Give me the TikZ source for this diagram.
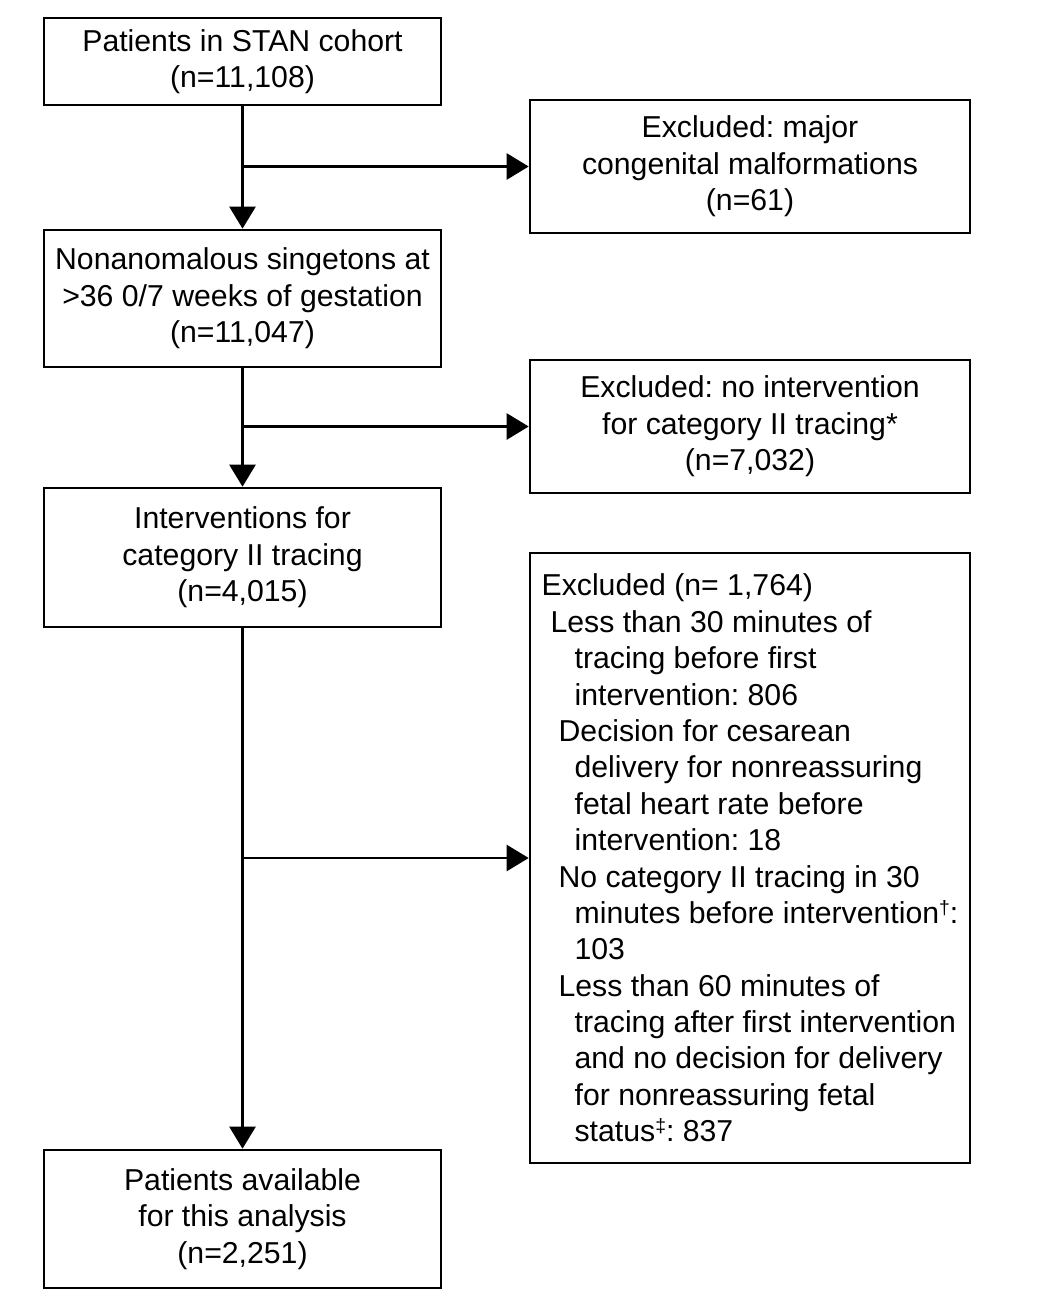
\documentclass[tikz,border=0pt]{standalone}
\usepackage{fontspec}
\setmainfont{Liberation Sans}
\usepackage{tikz}
\usetikzlibrary{arrows.meta}
\usetikzlibrary{positioning}
\frenchspacing
\newcommand{\indA}{\hspace*{0.18cm}}
\newcommand{\indB}{\hspace*{0.34cm}}
\newcommand{\indC}{\hspace*{0.66cm}}
\newcommand{\fnmark}[1]{\raisebox{0.55ex}{\fontsize{11}{11}\selectfont #1}}

\begin{document}
\begin{tikzpicture}[
		flowbox/.style={rectangle, draw, line width=1.5pt, inner sep=0pt, align=center, minimum width=7.94cm, font=\fontsize{17.2}{20.7}\selectfont},
		exbox/.style={flowbox, minimum width=8.8cm, minimum height=2.66cm},
		flowarrow/.style={line width=1.5pt, -{Triangle[width=0.52cm, length=0.44cm]}}]
		\useasboundingbox (0,0) rectangle (21,-26.12);

		% Main column
		\node[flowbox, minimum height=1.74cm] (cohort) at (4.85,-1.23) {Patients in STAN cohort\\(n=11,108)};
		\node[flowbox, minimum height=2.74cm] (singletons) at (4.85,-5.97) {Nonanomalous singetons at\\>36 0/7 weeks of gestation\\(n=11,047)};
		\node[flowbox, minimum height=2.78cm] (interv) at (4.85,-11.15) {Interventions for\\category II tracing\\(n=4,015)};
		\node[flowbox, minimum height=2.76cm] (analysis) at (4.85,-24.38) {Patients available\\for this analysis\\(n=2,251)};

		% Exclusions
		\node[exbox] (exMalf) at (15.0,-3.33) {Excluded: major\\congenital malformations\\(n=61)};
		\node[exbox] (exNoInt) at (15.0,-8.53) {Excluded: no intervention\\for category II tracing*\\(n=7,032)};
		\node[exbox, minimum height=12.2cm, align=left] (exOther) at (15.0,-17.16) {Excluded (n= 1,764)\\
			\indA Less than 30 minutes of\\
			\indC tracing before first\\
			\indC intervention: 806\\
			\indB Decision for cesarean\\
			\indC delivery for nonreassuring\\
			\indC fetal heart rate before\\
			\indC intervention: 18\\
			\indB No category II tracing in 30\\
			\indC minutes before intervention\fnmark{†}:\\
			\indC 103\\
			\indB Less than 60 minutes of\\
			\indC tracing after first intervention\\
			\indC and no decision for delivery\\
			\indC for nonreassuring fetal\\
			\indC status\fnmark{‡}: 837};

		% Branch points on the main line
		\coordinate (brMalf) at (cohort.south |- exMalf.west);
		\coordinate (brNoInt) at (singletons.south |- exNoInt.west);
		\coordinate (brOther) at (interv.south |- exOther.west);

		\draw[flowarrow] (cohort) -- (singletons);
		\draw[flowarrow] (singletons) -- (interv);
		\draw[flowarrow] (interv) -- (analysis);

		\draw[flowarrow] (brMalf) -- (exMalf);
		\draw[flowarrow] (brNoInt) -- (exNoInt);
		\draw[flowarrow] (brOther) -- (exOther);
\end{tikzpicture}
\end{document}
